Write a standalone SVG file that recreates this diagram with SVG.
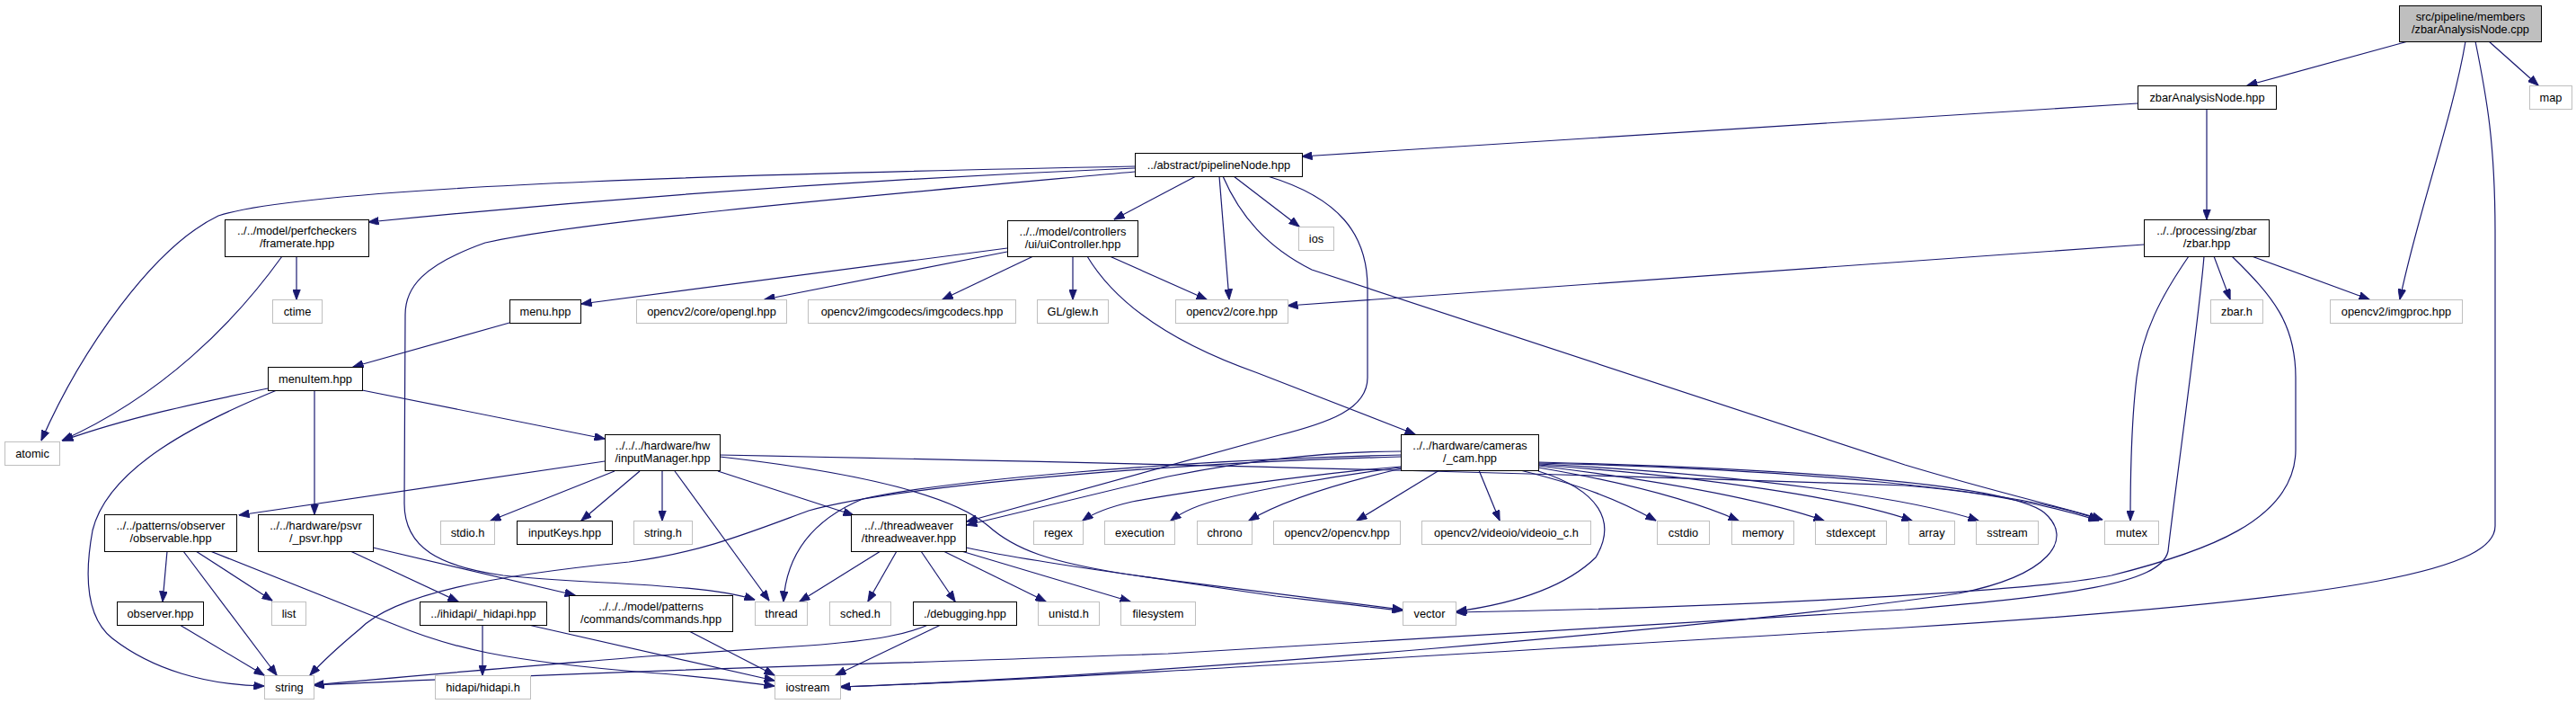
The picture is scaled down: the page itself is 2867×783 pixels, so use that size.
<svg xmlns="http://www.w3.org/2000/svg" width="2867" height="783" viewBox="0 0 2867 783">
<defs>
<marker id="a" markerUnits="userSpaceOnUse" markerWidth="12" markerHeight="9" viewBox="0 0 12 9" refX="11.5" refY="4.5" orient="auto"><path d="M0,0 L12,4.5 L0,9 z" fill="#191970" stroke="#191970" stroke-width="0.8"/></marker>
</defs>
<style>
rect{fill:#fff;stroke:#000;stroke-width:1}
.x rect{stroke:#bfbfbf}
.r rect{fill:#bfbfbf}
text{font-family:"Liberation Sans",Arial,Helvetica,sans-serif;font-size:12.8px;text-anchor:middle;fill:#000}
#edges path{fill:none;stroke:#191970;stroke-width:1.2;marker-end:url(#a)}
</style>
<rect x="0" y="0" width="2867" height="783" style="fill:#fff;stroke:none"/>
<g id="edges">
<path d="M2680,46 L2501,95"/>
<path d="M2770,46 L2825,95"/>
<path d="M2744,46 C2730,130 2690,240 2671,333"/>
<path d="M2755,46 C2768,110 2777,160 2777,260 L2777,585 C2777,630 2650,665 2120,698 C1700,722 1200,755 935,764"/>
<path d="M2379,115 L1449,174"/>
<path d="M2456,121 L2456,244"/>
<path d="M2386,272 L1433,340"/>
<path d="M2436,285 C2405,330 2384,370 2378,420 C2372,470 2371,520 2371,579"/>
<path d="M2453,285 C2448,350 2420,550 2413,613 C2405,650 2300,662 2120,678 L1300,727 C1000,738 700,745 349,762"/>
<path d="M2464,285 L2482,333"/>
<path d="M2484,285 C2530,330 2555,360 2555,420 L2555,500 C2555,580 2450,615 2350,640 C2250,660 1900,676 1620,681"/>
<path d="M2506,285 L2637,333"/>
<path d="M1263,185 C900,192 350,205 243,240 C170,275 90,390 46,490"/>
<path d="M1263,187 C1000,198 700,218 410,247"/>
<path d="M1263,191 C1000,215 650,245 540,270 C470,295 451,320 451,350 L450,560 C450,610 490,630 560,640 C650,650 780,648 840,667"/>
<path d="M1331,196 L1240,244"/>
<path d="M1373,196 L1446,252"/>
<path d="M1357,196 L1368,333"/>
<path d="M1361,196 C1380,240 1410,275 1460,300 L2120,517 C2230,550 2300,565 2340,578"/>
<path d="M1411,196 C1490,220 1522,260 1522,320 L1522,420 C1522,455 1480,470 1420,485 L1076,580"/>
<path d="M1121,276 L647,338"/>
<path d="M1121,280 L851,333"/>
<path d="M1150,285 L1049,333"/>
<path d="M1194,285 L1194,333"/>
<path d="M1235,285 L1343,333"/>
<path d="M1210,285 C1240,335 1300,380 1400,415 L1575,483"/>
<path d="M567,359 L393,408"/>
<path d="M330,285 L330,333"/>
<path d="M314,285 C260,360 180,440 69,490"/>
<path d="M298,432 C220,448 140,465 70,490"/>
<path d="M308,434 C220,470 120,520 103,590 C92,650 100,690 125,710 C170,745 230,762 294,763"/>
<path d="M350,434 L350,572"/>
<path d="M403,434 L673,488"/>
<path d="M673,513 L266,573"/>
<path d="M684,524 L546,579"/>
<path d="M712,524 L647,579"/>
<path d="M737,524 L737,579"/>
<path d="M751,524 L856,668"/>
<path d="M799,524 L950,573"/>
<path d="M801,506 C1100,512 1700,525 2120,540 C2220,548 2290,565 2336,579"/>
<path d="M801,508 C950,525 1060,550 1100,585 C1130,612 1170,625 1250,638 L1420,663 C1480,670 1530,676 1561,679"/>
<path d="M186,613 L181,669"/>
<path d="M218,613 L303,668"/>
<path d="M204,613 L308,751"/>
<path d="M234,613 L440,695 C500,720 560,735 720,748 C780,752 820,758 862,763"/>
<path d="M200,695 L294,751"/>
<path d="M390,613 L510,669"/>
<path d="M415,609 L640,662"/>
<path d="M537,695 L537,751"/>
<path d="M588,695 L862,757"/>
<path d="M767,702 L862,751"/>
<path d="M980,613 L890,669"/>
<path d="M998,613 L966,669"/>
<path d="M1025,613 L1063,669"/>
<path d="M1050,613 L1164,669"/>
<path d="M1070,613 L1258,669"/>
<path d="M1075,609 C1150,625 1250,638 1300,645 C1400,657 1500,670 1561,678"/>
<path d="M1047,695 L930,751"/>
<path d="M1033,695 C1010,705 980,712 900,718 L720,730 C600,740 450,752 349,762"/>
<path d="M1559,519 C1480,525 1330,545 1260,558 C1230,565 1215,572 1205,579"/>
<path d="M1559,520 C1480,530 1400,545 1360,555 C1330,562 1315,570 1303,579"/>
<path d="M1560,521 C1500,535 1430,555 1390,579"/>
<path d="M1602,523 L1510,579"/>
<path d="M1646,523 L1669,579"/>
<path d="M1692,523 C1760,540 1800,555 1843,579"/>
<path d="M1712,520 C1800,535 1880,555 1935,579"/>
<path d="M1712,518 C1850,535 1960,555 2030,579"/>
<path d="M1712,517 C1900,530 2060,555 2128,579"/>
<path d="M1712,516 C1950,528 2130,555 2202,579"/>
<path d="M1712,515 C2000,522 2250,545 2336,578"/>
<path d="M1712,524 C1780,545 1800,580 1776,620 C1740,655 1680,672 1621,680"/>
<path d="M1712,514 C1950,520 2230,535 2275,570 C2310,600 2280,640 2180,660 C1900,700 1300,750 935,764"/>
<path d="M1559,502 C1480,502 1400,510 1300,530 L1076,584"/>
<path d="M1559,506 C1300,512 1050,535 960,555 C900,580 875,620 872,669"/>
<path d="M1559,508 C1300,515 1000,540 900,568 C840,590 780,615 700,625 C550,640 440,660 400,700 C370,725 355,740 345,751"/>
</g>
<g id="n_root" class="r"><rect x="2670.5" y="6.5" width="158" height="40"/><text x="2749.5" y="22.5">src/pipeline/members</text><text x="2749.5" y="36.5">/zbarAnalysisNode.cpp</text></g>
<g id="n_zan"><rect x="2379.5" y="95.5" width="154" height="26"/><text x="2456.5" y="112.5">zbarAnalysisNode.hpp</text></g>
<g id="n_map" class="x"><rect x="2815.5" y="95.5" width="47" height="26"/><text x="2839" y="112.5">map</text></g>
<g id="n_pipe"><rect x="1263.5" y="170.5" width="186" height="26"/><text x="1356.5" y="187.5">../abstract/pipelineNode.hpp</text></g>
<g id="n_zbar"><rect x="2386.5" y="244.5" width="139" height="41"/><text x="2456" y="261">../../processing/zbar</text><text x="2456" y="275">/zbar.hpp</text></g>
<g id="n_framerate"><rect x="250.5" y="244.5" width="160" height="41"/><text x="330.5" y="261">../../model/perfcheckers</text><text x="330.5" y="275">/framerate.hpp</text></g>
<g id="n_ui"><rect x="1121.5" y="245.5" width="145" height="40"/><text x="1194" y="261.5">../../model/controllers</text><text x="1194" y="275.5">/ui/uiController.hpp</text></g>
<g id="n_ios" class="x"><rect x="1445.5" y="252.5" width="39" height="26"/><text x="1465" y="269.5">ios</text></g>
<g id="n_ctime" class="x"><rect x="303.5" y="333.5" width="55" height="26"/><text x="331" y="350.5">ctime</text></g>
<g id="n_menu"><rect x="567.5" y="333.5" width="79" height="26"/><text x="607" y="350.5">menu.hpp</text></g>
<g id="n_opengl" class="x"><rect x="708.5" y="333.5" width="167" height="26"/><text x="792" y="350.5">opencv2/core/opengl.hpp</text></g>
<g id="n_imgcodecs" class="x"><rect x="899.5" y="333.5" width="231" height="26"/><text x="1015" y="350.5">opencv2/imgcodecs/imgcodecs.hpp</text></g>
<g id="n_glew" class="x"><rect x="1154.5" y="333.5" width="79" height="26"/><text x="1194" y="350.5">GL/glew.h</text></g>
<g id="n_core" class="x"><rect x="1308.5" y="333.5" width="125" height="26"/><text x="1371" y="350.5">opencv2/core.hpp</text></g>
<g id="n_zbarh" class="x"><rect x="2460.5" y="333.5" width="58" height="26"/><text x="2489.5" y="350.5">zbar.h</text></g>
<g id="n_imgproc" class="x"><rect x="2593.5" y="333.5" width="147" height="26"/><text x="2667" y="350.5">opencv2/imgproc.hpp</text></g>
<g id="n_menuitem"><rect x="298.5" y="408.5" width="105" height="26"/><text x="351" y="425.5">menuItem.hpp</text></g>
<g id="n_inputmgr"><rect x="673.5" y="483.5" width="128" height="40"/><text x="737.5" y="499.5">../../../hardware/hw</text><text x="737.5" y="513.5">/inputManager.hpp</text></g>
<g id="n_cam"><rect x="1559.5" y="483.5" width="153" height="40"/><text x="1636" y="499.5">../../hardware/cameras</text><text x="1636" y="513.5">/_cam.hpp</text></g>
<g id="n_atomic" class="x"><rect x="5.5" y="491.5" width="61" height="26"/><text x="36" y="508.5">atomic</text></g>
<g id="n_observable"><rect x="116.5" y="572.5" width="147" height="41"/><text x="190" y="589">../../patterns/observer</text><text x="190" y="603">/observable.hpp</text></g>
<g id="n_psvr"><rect x="287.5" y="572.5" width="128" height="41"/><text x="351.5" y="589">../../hardware/psvr</text><text x="351.5" y="603">/_psvr.hpp</text></g>
<g id="n_threadweaver"><rect x="947.5" y="572.5" width="128" height="41"/><text x="1011.5" y="589">../../threadweaver</text><text x="1011.5" y="603">/threadweaver.hpp</text></g>
<g id="n_stdio" class="x"><rect x="490.5" y="579.5" width="60" height="26"/><text x="520.5" y="596.5">stdio.h</text></g>
<g id="n_inputkeys"><rect x="575.5" y="579.5" width="106" height="26"/><text x="628.5" y="596.5">inputKeys.hpp</text></g>
<g id="n_stringh" class="x"><rect x="705.5" y="579.5" width="65" height="26"/><text x="738" y="596.5">string.h</text></g>
<g id="n_regex" class="x"><rect x="1150.5" y="579.5" width="55" height="26"/><text x="1178" y="596.5">regex</text></g>
<g id="n_execution" class="x"><rect x="1229.5" y="579.5" width="78" height="26"/><text x="1268.5" y="596.5">execution</text></g>
<g id="n_chrono" class="x"><rect x="1332.5" y="579.5" width="61" height="26"/><text x="1363" y="596.5">chrono</text></g>
<g id="n_opencv" class="x"><rect x="1417.5" y="579.5" width="141" height="26"/><text x="1488" y="596.5">opencv2/opencv.hpp</text></g>
<g id="n_videoio" class="x"><rect x="1582.5" y="579.5" width="188" height="26"/><text x="1676.5" y="596.5">opencv2/videoio/videoio_c.h</text></g>
<g id="n_cstdio" class="x"><rect x="1844.5" y="579.5" width="58" height="26"/><text x="1873.5" y="596.5">cstdio</text></g>
<g id="n_memory" class="x"><rect x="1927.5" y="579.5" width="69" height="26"/><text x="1962" y="596.5">memory</text></g>
<g id="n_stdexcept" class="x"><rect x="2020.5" y="579.5" width="79" height="26"/><text x="2060" y="596.5">stdexcept</text></g>
<g id="n_array" class="x"><rect x="2124.5" y="579.5" width="51" height="26"/><text x="2150" y="596.5">array</text></g>
<g id="n_sstream" class="x"><rect x="2199.5" y="579.5" width="69" height="26"/><text x="2234" y="596.5">sstream</text></g>
<g id="n_mutex" class="x"><rect x="2342.5" y="579.5" width="60" height="26"/><text x="2372.5" y="596.5">mutex</text></g>
<g id="n_commands"><rect x="633.5" y="662.5" width="182" height="40"/><text x="724.5" y="678.5">../../../model/patterns</text><text x="724.5" y="692.5">/commands/commands.hpp</text></g>
<g id="n_observer"><rect x="130.5" y="669.5" width="96" height="26"/><text x="178.5" y="686.5">observer.hpp</text></g>
<g id="n_list" class="x"><rect x="302.5" y="669.5" width="38" height="26"/><text x="321.5" y="686.5">list</text></g>
<g id="n_hidapi_"><rect x="467.5" y="669.5" width="141" height="26"/><text x="538" y="686.5">../ihidapi/_hidapi.hpp</text></g>
<g id="n_thread" class="x"><rect x="840.5" y="669.5" width="58" height="26"/><text x="869.5" y="686.5">thread</text></g>
<g id="n_sched" class="x"><rect x="923.5" y="669.5" width="68" height="26"/><text x="957.5" y="686.5">sched.h</text></g>
<g id="n_debugging"><rect x="1016.5" y="669.5" width="115" height="26"/><text x="1074" y="686.5">./debugging.hpp</text></g>
<g id="n_unistd" class="x"><rect x="1155.5" y="669.5" width="68" height="26"/><text x="1189.5" y="686.5">unistd.h</text></g>
<g id="n_filesystem" class="x"><rect x="1247.5" y="669.5" width="83" height="26"/><text x="1289" y="686.5">filesystem</text></g>
<g id="n_vector" class="x"><rect x="1561.5" y="669.5" width="59" height="26"/><text x="1591" y="686.5">vector</text></g>
<g id="n_string" class="x"><rect x="294.5" y="751.5" width="55" height="26"/><text x="322" y="768.5">string</text></g>
<g id="n_hidapih" class="x"><rect x="484.5" y="751.5" width="106" height="26"/><text x="537.5" y="768.5">hidapi/hidapi.h</text></g>
<g id="n_iostream" class="x"><rect x="862.5" y="751.5" width="73" height="26"/><text x="899" y="768.5">iostream</text></g>
</svg>
